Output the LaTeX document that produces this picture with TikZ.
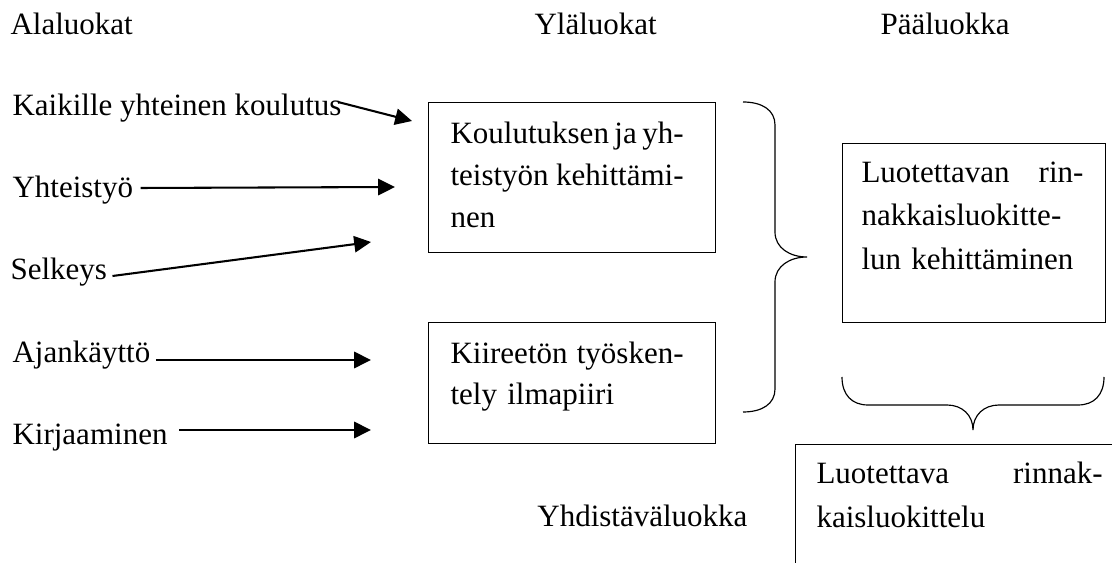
\documentclass[tikz,border=0pt]{standalone}
\usepackage{fontspec}
\setmainfont{Liberation Serif}
\usetikzlibrary{arrows.meta,calc}

% one justified line of a box text
\newcommand{\jline}[2]{\leavevmode\hbox to #1{\spaceskip=0.25em plus 1fil minus 0.12em\relax #2}}

\begin{document}
\begin{tikzpicture}[x=0.387pt,y=-0.387pt,
    lbl/.style={inner sep=0pt, anchor=base west, font=\fontsize{12}{14}\selectfont},
    boxtxt/.style={inner sep=0pt, anchor=north west, align=left},
    frame/.style={draw, line width=0.5pt, inner sep=0pt, anchor=north west},
    arr/.style={line width=0.8pt, -{Triangle[length=6.5pt,width=6.3pt]}},
    brc/.style={line width=0.45pt}]
    \useasboundingbox (0,0) rectangle (1112,563);
    \clip (0,0) rectangle (1112,563);

    % column headings
    \node[lbl] (ala) at (10,35) {Alaluokat};
    \node[lbl] (yla) at (534,35) {Yläluokat};
    \node[lbl] (paa) at (880,35) {Pääluokka};

    % sub categories
    \node[lbl] (kai) at (12,116) {Kaikille yhteinen koulutus};
    \node[lbl] (yht) at (12,198) {Yhteistyö};
    \node[lbl] (sel) at (10,280) {Selkeys};
    \node[lbl] (aja) at (12,363) {Ajankäyttö};
    \node[lbl] (kir) at (12,445) {Kirjaaminen};
    \node[lbl, anchor=base east] (yhd) at (748,527) {Yhdistäväluokka};

    % arrow ends
    \coordinate (p1) at (412,121);
    \coordinate (p2) at (395,187);
    \coordinate (p3) at (371,242);
    \coordinate (p4) at (371,360);
    \coordinate (p5) at (371,430);

    \draw[arr] ($(kai.base east)+(-4,-14)$) -- (p1);
    \draw[arr] ($(yht.base east)+(7,-10)$) -- (p2);
    \draw[arr] ($(sel.base east)+(5,-4)$) -- (p3);
    \draw[arr] ($(aja.base east)+(5,-3)$) -- (p4);
    \draw[arr] ($(kir.base east)+(11,-15)$) -- (p5);

    % upper categories
    \node[frame, minimum width=111.1pt, minimum height=58.1pt] (b1) at (428,102) {};
    \node[frame, minimum width=111.1pt, minimum height=46.8pt] (b2) at (428,322) {};
    \node[boxtxt, text width=90.2pt, font=\fontsize{12}{16.4}\selectfont] (b1t) at (450,121)
        {\jline{90.2pt}{Koulutuksen ja yh-}\\\jline{90.2pt}{teistyön kehittämi-}\\nen};
    \node[boxtxt, text width=90.2pt, font=\fontsize{12}{15.9}\selectfont] (b2t) at (450,341)
        {\jline{90.2pt}{Kiireetön työsken-}\\tely ilmapiiri};

    % main category
    \node[frame, minimum width=101.8pt, minimum height=69.3pt] (b3) at (842,143) {};
    \node[boxtxt, text width=85.9pt, font=\fontsize{12}{16.8}\selectfont] (b3t) at (861,161.5)
        {\jline{85.9pt}{Luotettavan rin-}\\nakkaisluokitte-\\lun kehittäminen};

    % combining category
    \node[frame, minimum width=130.4pt, minimum height=53.8pt] (b4) at (795,444) {};
    \node[boxtxt, text width=110.7pt, font=\fontsize{12}{17.4}\selectfont] (b4t) at (816,461)
        {\jline{110.7pt}{Luotettava rinnak-}\\kaisluokittelu};

    % braces
    \draw[brc] (743,102) .. controls (762,102) and (775,110) .. (775,125) -- (775,232)
        .. controls (775,248) and (790,257) .. (807,257)
        .. controls (790,257) and (775,266) .. (775,282) -- (775,389)
        .. controls (775,404) and (762,412) .. (743,412);
    \draw[brc] (842,377) .. controls (842,395) and (852,405) .. (868,405) -- (947,405)
        .. controls (962,405) and (973,415) .. (973,430)
        .. controls (973,415) and (984,405) .. (999,405) -- (1078,405)
        .. controls (1094,405) and (1104,395) .. (1104,377);
\end{tikzpicture}
\end{document}
